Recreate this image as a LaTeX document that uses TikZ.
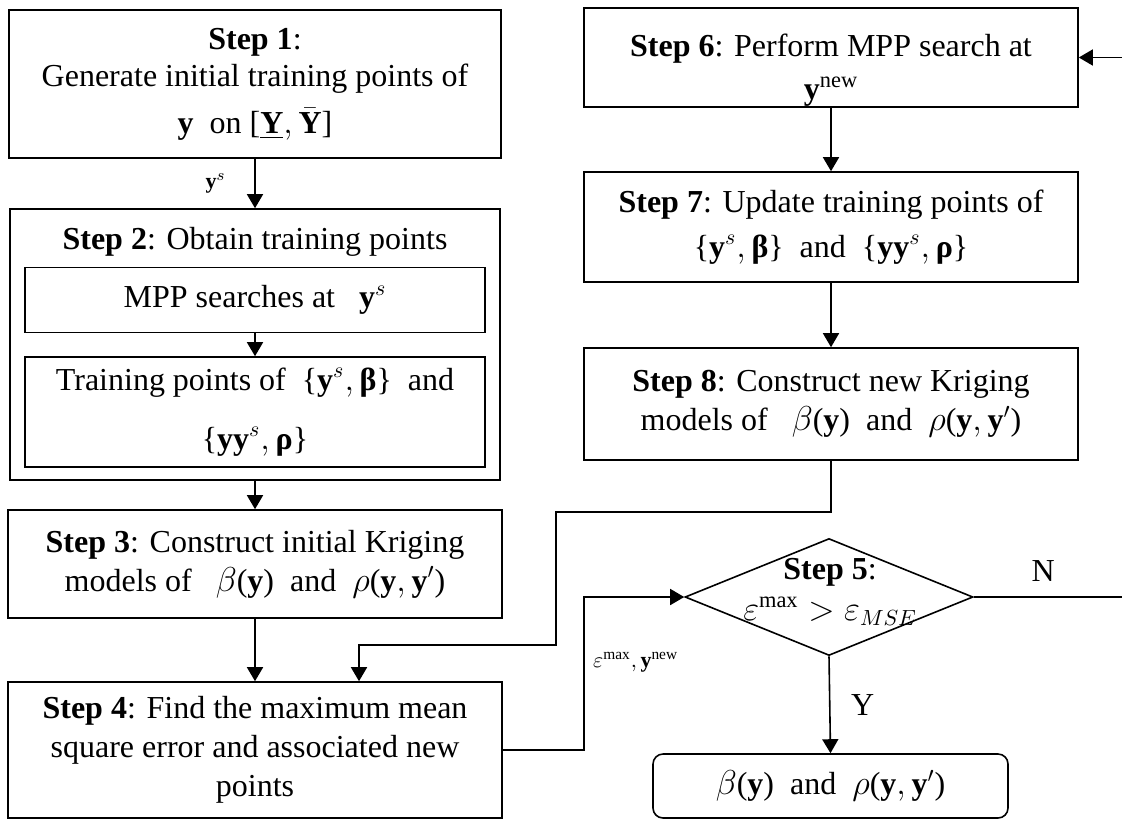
\documentclass[tikz,border=0pt]{standalone}
\usepackage{amsmath, amssymb}
\usepackage{fontspec}
\setmainfont{Liberation Serif}
\usepackage{tikz}
\usetikzlibrary{
  arrows.meta,
  positioning,
  shapes.geometric
}
\newcommand{\stepfont}{\fontsize{16}{19.5}\selectfont}
\newcommand{\vy}{\mathbf{y}}
\newcommand{\tp}[1]{\text{(}#1\text{)}}
\newcommand{\tbr}[1]{\text{\{}#1\text{\}}}
\newcommand{\bbeta}{\text{\bfseries β}}
\newcommand{\brho}{\text{\bfseries ρ}}

\begin{document}
\begin{tikzpicture}[
  x=0.5pt, y=-0.5pt,
  stepbox/.style={rectangle, draw, line width=0.8pt, align=center, minimum width=246pt, inner sep=0pt, font=\stepfont},
  innerbox/.style={stepbox, minimum width=230pt},
  decision/.style={diamond, draw, line width=0.8pt, minimum width=144pt, minimum height=58.5pt, inner sep=0pt},
  endbox/.style={stepbox, rounded corners=5pt, minimum width=177.5pt, minimum height=32pt},
  arrow/.style={-{Triangle[length=7pt, width=8pt]}, line width=0.8pt},
  label/.style={font=\fontsize{11}{13}\selectfont},
  yn/.style={font=\stepfont},
]
\useasboundingbox (0,0) rectangle (1122,820);

% Left column
\node[stepbox, minimum height=74pt] (s1) at (255,84) {\textbf{Step 1}:\\[-1pt]Generate initial training points of\\[4pt]$\vy$ \ on \text{[}$\underline{\mathbf{Y}},\bar{\mathbf{Y}}$\text{]}};
\node[stepbox, minimum width=245pt, minimum height=135.5pt] (s2) at (255,344.5) {};
\node[font=\stepfont] (s2title) at (255,242) {\textbf{Step 2}: Obtain training points};
\node[innerbox, minimum height=32.5pt] (mpp) at (255,300) {MPP searches at \ \ $\vy^{s}$};
\node[innerbox, minimum height=55pt] (tp) at (255,412) {Training points of \ $\tbr{\vy^{s},\bbeta}$ \ and\\[10pt]$\tbr{\vy\vy^{s},\brho}$};
\node[stepbox, minimum width=247pt, minimum height=54pt] (s3) at (255,564) {\textbf{Step 3}: Construct initial Kriging\\models of \ \ $\beta\tp{\vy}$ \ and \ $\rho\tp{\vy,\vy'}$};
\node[stepbox, minimum width=247pt, minimum height=68pt] (s4) at (255,750) {\textbf{Step 4}: Find the maximum mean\\square error and associated new\\points};

% Right column
\node[stepbox, minimum width=247pt, minimum height=49.5pt] (s6) at (831,57.5) {\rule{0pt}{24pt}\textbf{Step 6}: Perform MPP search at\\[2pt]$\vy^{\mathrm{new}}$};
\node[stepbox, minimum width=247pt, minimum height=55pt] (s7) at (831,227) {\textbf{Step 7}: Update training points of\\[3pt]$\tbr{\vy^{s},\bbeta}$ \ and \ $\tbr{\vy\vy^{s},\brho}$};
\node[stepbox, minimum width=247pt, minimum height=56pt] (s8) at (831,404) {\textbf{Step 8}: Construct new Kriging\\models of \ \ $\beta\tp{\vy}$ \ and \ $\rho\tp{\vy,\vy'}$};
\node[decision] (s5) at (829,597) {};
\node[font=\stepfont, align=center] (s5txt) at (830,592) {\textbf{Step 5}:\\[1pt]$\varepsilon^{\mathrm{max}} > \varepsilon_{MSE}$};
\node[endbox] (fin) at (830.5,786) {$\beta\tp{\vy}$ \ and \ $\rho\tp{\vy,\vy'}$};

% Bend points
\coordinate (fb1) at (556,512);
\coordinate (fb2) at (359,645);
\coordinate (jn) at (584,597);
\coordinate (rt) at (1128,597);

% Arrows
\draw[arrow] (s1) -- node[left=11pt, label] {$\vy^{s}$} (s2);
\draw[arrow] (mpp) -- (tp);
\draw[arrow] (s2) -- (s3);
\draw[arrow] (s3) -- (s4);
\draw[arrow] (s6) -- (s7);
\draw[arrow] (s7) -- (s8);
\draw[arrow] (s8.south) |- (fb1) |- (fb2) -- (fb2 |- s4.north);
\draw[arrow] (s4.east) -| (jn) -- (s5.west);
\draw[arrow] (s5.east) -- node[pos=0.45, above=4pt, yn] {N} (rt) |- (s6.east);
\draw[arrow] (s5.south) -- node[right=7pt, yn] {Y} (fin.north);

% Loop label
\node[label, anchor=west] (epslbl) at (586,662) {$\varepsilon^{\mathrm{max}}, \vy^{\mathrm{new}}$};
\end{tikzpicture}
\end{document}
